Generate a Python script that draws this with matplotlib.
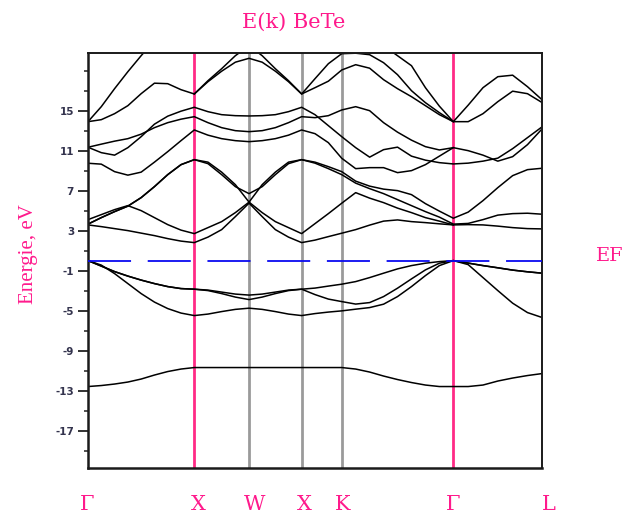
import numpy as np
import matplotlib
matplotlib.use('Agg')
import matplotlib.pyplot as plt
from matplotlib.transforms import blended_transform_factory, offset_copy

plt.rcParams['lines.scale_dashes'] = False
nan = np.nan

# ---- k-path ----
sym_labels = ['Γ', 'X', 'W', 'X', 'K', 'Γ', 'L']
sym_k = [0.0, 1.0, 1.515, 2.010, 2.387, 3.437, 4.274]
seg_steps = [8, 4, 4, 3, 8, 6]
label_dx_px = [-1, 4, 6, 3, 1, 0, 7]

# ---- bands (eV), sampled on the k grid ----
band_s = [-12.6, -12.5, -12.35, -12.15, -11.85, -11.45, -11.1, -10.85, -10.7,
          -10.7, -10.7, -10.7, -10.7,
          -10.7, -10.7, -10.7, -10.7,
          -10.7, -10.7, -10.7,
          -10.85, -11.15, -11.55, -11.9, -12.2, -12.45, -12.6, -12.6,
          -12.6, -12.45, -12.05, -11.75, -11.5, -11.3]
band_v1 = [0, -0.55, -1.1, -1.55, -1.95, -2.3, -2.6, -2.8, -2.86,
           -2.95, -3.15, -3.35, -3.45,
           -3.35, -3.15, -2.95, -2.86,
           -2.75, -2.55, -2.36,
           -2.1, -1.7, -1.26, -0.83, -0.5, -0.26, -0.1, 0,
           -0.25, -0.5, -0.72, -0.95, -1.12, -1.26]
band_v2 = [0, -0.55, -1.1, -1.55, -1.95, -2.3, -2.6, -2.8, -2.86,
           -3.0, -3.3, -3.65, -3.9,
           -3.65, -3.3, -3.0, -2.86,
           -3.4, -3.85, -4.1,
           -4.35, -4.2, -3.6, -2.76, -1.83, -0.93, -0.26, 0,
           -0.25, -0.5, -0.72, -0.95, -1.12, -1.26]
band_v3 = [0, -0.45, -1.3, -2.3, -3.3, -4.15, -4.8, -5.25, -5.5,
           -5.35, -5.1, -4.88, -4.76,
           -4.88, -5.1, -5.35, -5.5,
           -5.3, -5.15, -5.03,
           -4.86, -4.7, -4.36, -3.6, -2.6, -1.5, -0.5, 0,
           -0.4, -1.7, -3.0, -4.26, -5.2, -5.7]
band_c1 = [3.57, 3.4, 3.2, 3.0, 2.75, 2.5, 2.2, 1.95, 1.8,
           2.35, 3.1, 4.4, 5.75,
           4.4, 3.1, 2.35, 1.8,
           2.05, 2.4, 2.74,
           3.1, 3.55, 3.95, 4.07, 3.9, 3.8, 3.68, 3.57,
           3.6, 3.57, 3.45, 3.3, 3.2, 3.17]
band_c2 = [3.65, 4.3, 4.9, 5.45, 6.3, 7.4, 8.6, 9.6, 10.1,
           9.85, 8.85, 7.6, 5.85,
           7.6, 8.85, 9.85, 10.1,
           9.75, 9.2, 8.6,
           7.75, 7.2, 6.7, 6.1, 5.5, 4.9, 4.35, 3.65,
           3.72, 4.1, 4.55, 4.7, 4.74, 4.64]
band_c3 = [4.1, 4.6, 5.1, 5.5, 5.0, 4.3, 3.6, 3.05, 2.7,
           3.3, 3.9, 4.8, 5.85,
           4.8, 3.9, 3.3, 2.7,
           3.7, 4.7, 5.74,
           6.8, 6.25, 5.8, 5.25, 4.8, 4.3, 3.95, 3.57,
           nan, nan, nan, nan, nan, nan]
band_c4 = [3.65, 4.3, 4.9, 5.45, 6.3, 7.4, 8.6, 9.6, 10.1,
           9.7, 8.6, 7.4, 6.7,
           7.4, 8.6, 9.7, 10.1,
           9.85, 9.4, 8.9,
           7.95, 7.45, 7.15, 7.0, 6.6, 5.7, 4.95, 4.24,
           4.85, 6.0, 7.3, 8.5, 9.1, 9.24]
band_c5 = [11.34, 10.8, 10.55, 11.3, 12.4, 13.65, 14.45, 14.95, 15.34,
           14.9, 14.6, 14.5, 14.47,
           14.5, 14.6, 14.9, 15.34,
           14.6, 13.5, 12.4,
           11.3, 10.35, 11.1, 11.35, 10.45, 10.05, 9.8, 9.67,
           9.75, 9.95, 10.25, 11.2, 12.3, 13.4]
band_c6 = [11.34, 11.65, 11.95, 12.2, 12.65, 13.3, 13.8, 14.15, 14.4,
           13.8, 13.3, 13.0, 12.9,
           13.0, 13.3, 13.8, 14.4,
           14.3, 14.5, 15.07,
           15.4, 15.0, 13.8, 12.85, 12.05, 11.4, 11.07, 11.3,
           11.0, 10.55, 9.95, 10.4, 11.6, 13.2]
band_c7 = [9.74, 9.65, 8.9, 8.55, 8.85, 9.85, 10.9, 12.0, 13.07,
           12.55, 12.2, 12.0, 11.9,
           12.0, 12.2, 12.55, 13.07,
           12.7, 11.8, 10.24,
           9.2, 9.3, 9.3, 8.8, 9.0, 9.6, 10.45, 11.3,
           nan, nan, nan, nan, nan, nan]
band_c8 = [13.9, 14.1, 14.7, 15.5, 16.7, 17.75, 17.7, 17.1, 16.67,
           17.9, 18.95, 19.85, 20.24,
           19.85, 18.95, 17.9, 16.67,
           17.3, 17.95, 19.07,
           19.6, 19.25, 18.1, 17.2, 16.4, 15.5, 14.6, 13.9,
           13.9, 14.7, 15.9, 16.95, 16.7, 15.8]
band_c9 = [13.9, 15.4, 17.2, 18.9, 20.5, 22.0, nan, nan, nan,
           nan, nan, nan, nan,
           nan, nan, nan, nan,
           nan, nan, nan,
           nan, 22.5, 21.5, 20.5, 19.5, 17.3, 15.45, 13.9,
           15.55, 17.3, 18.4, 18.55, 17.4, 16.07]
band_c10 = [nan, nan, nan, nan, nan, nan, nan, nan, 16.67,
            18.0, 19.2, 20.5, 21.5,
            20.5, 19.2, 18.0, 16.67,
            18.2, 19.7, 20.7,
            20.75, 20.6, 19.8, 18.6, 17.0, 15.8, 14.8, 13.9,
            nan, nan, nan, nan, nan, nan]

bands = [band_s, band_v1, band_v2, band_v3, band_c1, band_c2, band_c3,
         band_c4, band_c5, band_c6, band_c7, band_c8, band_c9, band_c10]

y_major = list(range(-17, 16, 4))
y_minor = list(range(-19, 20, 2))
y_range = (-20.75, 20.77)
fermi_level = 0.0

# ---- grid ----
kgrid = [sym_k[0]]
for i, n in enumerate(seg_steps):
    kgrid.extend(np.linspace(sym_k[i], sym_k[i + 1], n + 1)[1:])
kgrid = np.array(kgrid)

pink = '#ff1a8c'
W, H = 631, 515
fig = plt.figure(figsize=(W / 100, H / 100), dpi=100)
ax = fig.add_axes([88 / W, (H - 468) / H, (542.3 - 88) / W, (468 - 53) / H])

for i in range(1, len(sym_k) - 1):
    if i in (1, 5):
        ax.axvline(sym_k[i], color='#ff2a85', lw=2.0, zorder=1)
    else:
        ax.axvline(sym_k[i], color='#9a9a9a', lw=2.0, zorder=1)

for b in bands:
    ax.plot(kgrid, b, color='black', lw=1.1, zorder=2, solid_joinstyle='round')

ax.plot([sym_k[0], sym_k[-1]], [fermi_level, fermi_level], color='#0a0af0',
        lw=1.3, dashes=(31, 12), zorder=3)

ax.set_xlim(sym_k[0], sym_k[-1])
ax.set_ylim(*y_range)
ax.set_xticks([])
ax.set_yticks(y_major)
ax.set_yticks(y_minor, minor=True)
ax.set_yticklabels([str(v) for v in y_major])
ax.tick_params(axis='y', which='major', direction='out', length=7, width=1.3,
               color='#222222', labelsize=7.5, labelcolor='#33334d', pad=3)
ax.tick_params(axis='y', which='minor', direction='out', length=3, width=1.1,
               color='#222222')
for lbl in ax.get_yticklabels():
    lbl.set_fontweight('bold')
    lbl.set_family('DejaVu Sans')
for side, lw in (('left', 1.8), ('bottom', 1.8), ('top', 1.4), ('right', 1.4)):
    ax.spines[side].set_linewidth(lw)
    ax.spines[side].set_color('#1a1a1a')

trans = blended_transform_factory(ax.transData, ax.transAxes)
for kk, lab, dx in zip(sym_k, sym_labels, label_dx_px):
    t = offset_copy(trans, fig=fig, x=dx * 0.72, y=0, units='points')
    ax.text(kk, -0.101, lab, transform=t, ha='center', va='baseline',
            color=pink, family='DejaVu Serif', fontsize=15, clip_on=False)

fig.text(294 / W, (H - 22) / H, 'E(k) BeTe', ha='center', va='center',
         color=pink, family='DejaVu Serif', fontsize=15)
fig.text(28 / W, (H - 254) / H, 'Energie, eV', rotation=90, ha='center',
         va='center', color=pink, family='Liberation Serif', fontsize=15)
fig.text(610 / W, (H - 256) / H, 'EF', ha='center', va='center',
         color=pink, family='DejaVu Serif', fontsize=14)

fig.savefig('out.png', dpi=100)
